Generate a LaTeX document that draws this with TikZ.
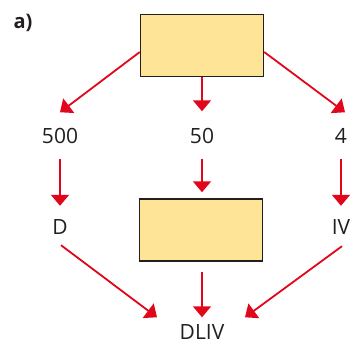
\documentclass[tikz,border=0pt]{standalone}
\usepackage{fontspec}
\setmainfont{Open Sans}
\usetikzlibrary{arrows.meta,calc}
\definecolor{ink}{HTML}{231F20}
\definecolor{arrowred}{HTML}{E2061B}
\definecolor{boxfill}{HTML}{FDE497}

\tikzset{
  box/.style={draw=ink, fill=boxfill, line width=1.4pt, minimum width=123pt, minimum height=62pt, inner sep=0pt},
  lbl/.style={text=ink, inner sep=0pt, text height=15pt, text depth=0pt, font=\fontsize{21}{24}\selectfont},
  arr/.style={arrowred, line width=1.8pt, -{Triangle[length=11pt, width=18pt]}}
}

\begin{document}
\begin{tikzpicture}[x=1pt, y=-1pt]
  \useasboundingbox (0,0) rectangle (354,344);

  % boxes and labels
  \node[text=ink, inner sep=0pt, font=\bfseries\fontsize{20}{24}\selectfont] (part) at (23,23) {a)};
  \node[box] (top) at (202,45.5) {};
  \node[box] (mid) at (201,230) {};
  \node[lbl] (n500) at (60,136) {500};
  \node[lbl] (n50) at (202,136) {50};
  \node[lbl] (n4) at (341,136) {4};
  \node[lbl] (rD) at (60,227.5) {D};
  \node[lbl] (rIV) at (341,227.5) {IV};
  \node[lbl] (res) at (202,332.5) {DLIV};

  % arrows
  \draw[arr] ($(top.west)+(0,6.5)$) -- ($(n500.north)+(0,-16)$);
  \draw[arr] (top.south -| n50) -- ($(n50.north)+(0,-17)$);
  \draw[arr] ($(top.east)+(0,6.5)$) -- ($(n4.north)+(4,-16)$);

  \draw[arr] ($(n500.south)+(0,15)$) -- ($(rD.north)+(0,-14)$);
  \draw[arr] ($(n50.south)+(0,15)$) -- ($(mid.north -| n50)+(0,-6)$);
  \draw[arr] ($(n4.south)+(0,15)$) -- ($(rIV.north)+(0,-14)$);

  \draw[arr] ($(rD.south)+(1,10)$) -- ($(res.north)+(-45,-7.5)$);
  \draw[arr] ($(mid.south -| n50)+(0,10)$) -- ($(res.north)+(0,-7.5)$);
  \draw[arr] ($(rIV.south)+(1,11)$) -- ($(res.north)+(43,-7.5)$);
\end{tikzpicture}
\end{document}
